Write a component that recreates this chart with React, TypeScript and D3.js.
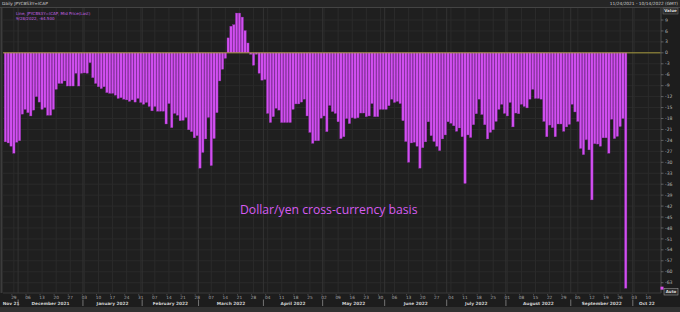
import React from "react";
import * as d3 from "d3";

const W = 680;
const H = 312;

// Values (daily, business days starting 24 Nov 2021)
const valsNovJan = [
  -24.4, -24.7, -25.6, -27.5, -24.5, -24.1, -16.8, -15.5, -16.4, -17.3,
  -15.7, -12.0, -13.5, -15.5, -15.0, -17.1, -17.1, -15.5, -10.0, -8.4,
  -8.4, -7.7, -9.1, -9.1, -9.1, -5.6, -9.1, -5.6, -5.5, -5.6,
  -2.7, -6.8, -8.4, -9.3, -9.8, -9.3, -10.9, -11.1, -11.1, -11.6,
  -12.5, -12.3, -12.7, -12.9, -13.3, -12.9, -13.5, -12.5, -13.6, -14.1,
];
const valsFebMar = [
  -13.6, -14.7, -15.9, -14.7, -16.0, -16.0, -16.0, -19.5, -13.9, -20.5,
  -16.6, -17.1, -18.6, -18.5, -17.7, -21.1, -21.6, -23.3, -22.7, -31.6,
  -27.3, -23.6, -17.7, -30.9, -23.5, -16.4, -7.7, -4.5, -1.5, 4.1,
  7.3, 7.7, 10.9, 10.9, 9.8, 6.1, 2.7, -0.4, -3.4, -0.4,
  -5.6, -7.5, -7.3,
];
const valsAprJun = [
  -16.6, -19.1, -17.5, -15.2, -15.7, -19.1, -19.1, -19.1, -19.1, -15.5,
  -14.0, -14.0, -13.5, -12.7, -17.3, -21.8, -24.8, -24.1, -24.1, -17.9,
  -17.3, -21.6, -14.4, -16.1, -16.6, -18.9, -23.5, -23.0, -18.0, -19.4,
  -17.8, -18.0, -17.8, -16.5, -16.5, -17.5, -17.3, -13.9, -17.5, -17.5,
  -15.5, -15.5, -15.5, -14.5, -12.7, -13.6, -13.3, -13.9, -18.6, -24.3,
  -30.0, -24.7, -24.5, -25.6, -31.6, -26.0, -24.4, -18.9, -22.7, -24.3,
  -25.6, -26.8, -23.6,
];
const valsJulSep = [
  -22.5, -18.9, -19.3, -20.0, -21.5, -20.6, -23.0, -35.8, -22.5, -23.2,
  -19.7, -16.7, -12.7, -16.9, -19.7, -23.6, -21.8, -21.1, -18.8, -15.5,
  -14.1, -16.6, -17.3, -13.6, -20.3, -16.5, -16.7, -14.1, -14.7, -15.1,
  -12.7, -10.0, -12.5, -12.5, -12.7, -18.8, -23.0, -19.8, -20.5, -23.0,
  -19.5, -19.5, -21.5, -20.3, -19.6, -14.1, -16.2, -18.8, -26.2, -27.9,
  -23.8, -26.6, -40.3, -24.9, -25.0, -25.6, -23.3, -23.3, -27.5, -18.2,
  -23.5, -22.9, -20.2, -18.0, -64.5,
];
const values = [...valsNovJan, ...valsFebMar, ...valsAprJun, ...valsJulSep];

const yTicks = d3.range(9, -64, -3);
const startDate = new Date(2021, 10, 24);
const endDate = new Date(2022, 9, 15);
const monthLabels = [
  { d: new Date(2021, 10, 1), t: "Nov 21" },
  { d: new Date(2021, 11, 1), t: "December 2021" },
  { d: new Date(2022, 0, 1), t: "January 2022" },
  { d: new Date(2022, 1, 1), t: "February 2022" },
  { d: new Date(2022, 2, 1), t: "March 2022" },
  { d: new Date(2022, 3, 1), t: "April 2022" },
  { d: new Date(2022, 4, 1), t: "May 2022" },
  { d: new Date(2022, 5, 1), t: "June 2022" },
  { d: new Date(2022, 6, 1), t: "July 2022" },
  { d: new Date(2022, 7, 1), t: "August 2022" },
  { d: new Date(2022, 8, 1), t: "September 2022" },
  { d: new Date(2022, 9, 1), t: "Oct 22" },
];

const PL = 3, PR = 661, PT = 8, PB = 293;

export default function App() {
  const days = d3.timeDay.range(startDate, endDate).filter((d) => d.getDay() !== 0 && d.getDay() !== 6);
  const key = (d: Date) => d3.timeFormat("%Y-%m-%d")(d);
  const x = d3.scaleBand<string>().domain(days.map(key)).range([4, 661]).paddingInner(0.18).paddingOuter(0.09);
  const step = x.step();
  const bw = x.bandwidth();
  const cx = (d: Date) => (x(key(d)) as number) + bw / 2;
  const y = d3.scaleLinear().domain([9, -63]).range([20, 282.7]);
  const y0 = y(0);
  const mondays = days.filter((d) => d.getDay() === 1);
  const fmtDay = d3.timeFormat("%d");

  const spans = monthLabels.map((m, i) => {
    const mDays = days.filter((d) => d.getMonth() === m.d.getMonth() && d.getFullYear() === m.d.getFullYear());
    const a = mDays.length ? (x(key(mDays[0])) as number) - (step - bw) / 2 : PL;
    const b = mDays.length ? (x(key(mDays[mDays.length - 1])) as number) + bw + (step - bw) / 2 : PR;
    return { ...m, a: Math.max(PL, a), b: Math.min(PR, b), first: i > 0 };
  });

  const font = "'DejaVu Sans', 'Liberation Sans', sans-serif";
  const lastV = values[values.length - 1];

  return (
    <svg width={W} height={H} style={{ position: "fixed", left: 0, top: 0, background: "#1d1d1d" }} fontFamily={font}>
      <rect x={0} y={0} width={W} height={H} fill="#1d1d1d" />
      <rect x={0} y={0} width={W} height={7} fill="#262626" />
      <line x1={0} x2={W} y1={7.5} y2={7.5} stroke="#444" strokeWidth={1} />
      <text x={2} y={5} fontSize={4.3} fill="#cfcfcf">Daily JPYCBS3Y=ICAP</text>
      <text x={678} y={5} fontSize={4.3} fill="#cfcfcf" textAnchor="end">11/24/2021 - 10/14/2022 (GMT)</text>
      <rect x={PL} y={PT} width={PR - PL} height={PB - PT} fill="#1f1f1f" />
      {yTicks.map((t) => (
        <line key={"h" + t} x1={PL} x2={PR} y1={y(t)} y2={y(t)} stroke="#2a2a2a" strokeWidth={1} />
      ))}
      {mondays.map((d) => (
        <line key={"v" + key(d)} x1={cx(d)} x2={cx(d)} y1={PT} y2={PB} stroke="#2b2b2b" strokeWidth={1} />
      ))}
      {spans.filter((s) => s.first).map((s) => (
        <line key={"mv" + s.t} x1={s.a} x2={s.a} y1={PT} y2={PB} stroke="#333" strokeWidth={1} />
      ))}
      <line x1={1.5} x2={1.5} y1={PT} y2={PB} stroke="#3c3c3c" strokeWidth={2} />
      {values.map((v, i) => {
        const d = days[i];
        const yy = y(v);
        return (
          <rect
            key={"b" + i}
            x={x(key(d)) as number}
            y={Math.min(yy, y0)}
            width={bw}
            height={Math.abs(yy - y0)}
            fill="#d14ff0"
            stroke="#962fb4"
            strokeWidth={0.35}
          />
        );
      })}
      <line x1={PL} x2={PR} y1={y0} y2={y0} stroke="#a89a3e" strokeWidth={1} />
      <text x={16} y={15} fontSize={4} fill="#c763e6">Line, JPYCBS3Y=ICAP, Mid Price(Last)</text>
      <text x={16} y={20} fontSize={4} fill="#c763e6">9/28/2022, -64.500</text>
      <text x={240} y={214} fontSize={12.2} fill="#d65cf0" fontFamily="'Open Sans', 'Noto Sans', sans-serif">
        Dollar/yen cross-currency basis
      </text>
      <line x1={PR} x2={PR} y1={PT} y2={PB} stroke="#4a4a4a" strokeWidth={1} />
      <rect x={663} y={8} width={15} height={6} fill="#2a2a2a" stroke="#777" strokeWidth={0.5} />
      <text x={670.5} y={12.4} fontSize={4} fill="#ddd" textAnchor="middle" fontWeight="bold">Value</text>
      {yTicks.map((t) => (
        <g key={"yt" + t}>
          <line x1={PR} x2={PR + 2.5} y1={y(t)} y2={y(t)} stroke="#888" strokeWidth={0.6} />
          <text x={PR + 4} y={y(t) + 1.6} fontSize={4.6} fill="#b5b5b5">{t}</text>
        </g>
      ))}
      <rect x={PR - 0.5} y={y(lastV) - 1.5} width={3} height={3} fill="#e04ff0" />
      <rect x={664} y={288.5} width={14} height={6.5} fill="#2a2a2a" stroke="#aaa" strokeWidth={0.5} />
      <text x={671} y={293.3} fontSize={4} fill="#ddd" textAnchor="middle" fontWeight="bold">Auto</text>
      <line x1={PL} x2={PR} y1={PB} y2={PB} stroke="#3a3a3a" strokeWidth={1} />
      {mondays.map((d) => (
        <g key={"xt" + key(d)}>
          <line x1={cx(d) - 2} x2={cx(d) - 2} y1={PB + 1} y2={PB + 2.5} stroke="#777" strokeWidth={0.5} />
          <text x={cx(d)} y={298.5} fontSize={4.3} fill="#a8a8a8" textAnchor="middle">{fmtDay(d)}</text>
        </g>
      ))}
      {spans.map((s) => (
        <g key={"m" + s.t}>
          {s.first && <line x1={s.a} x2={s.a} y1={299.5} y2={306} stroke="#8a8a8a" strokeWidth={0.8} />}
          <text x={(s.a + s.b) / 2} y={304.5} fontSize={4.3} fill="#d0d0d0" fontWeight="bold" textAnchor="middle">{s.t}</text>
        </g>
      ))}
      <rect x={0} y={307} width={W} height={5} fill="#313131" />
    </svg>
  );
}
